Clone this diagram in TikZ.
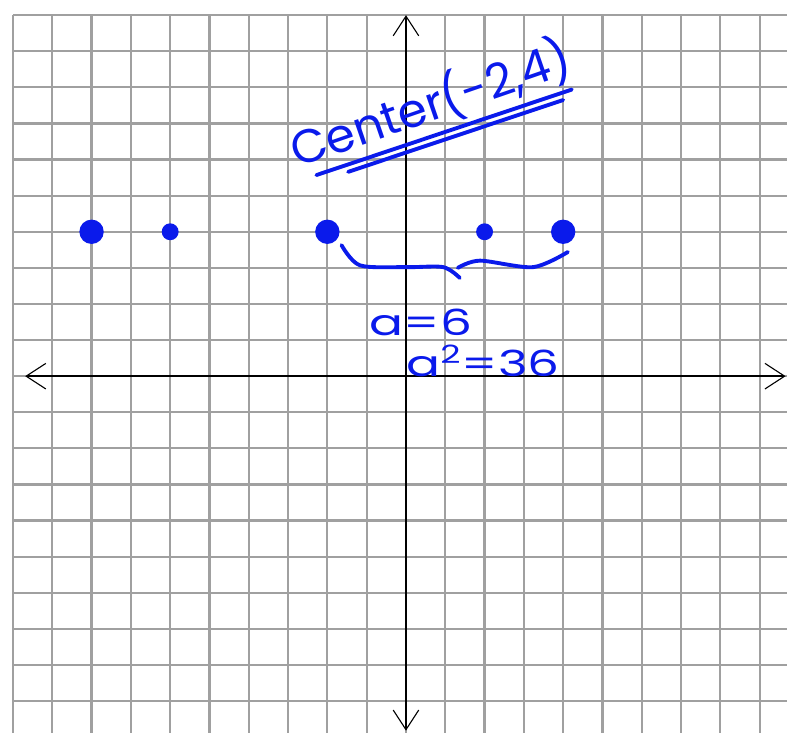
\documentclass[tikz,border=0pt]{standalone}
\usepackage{fontspec}
\newfontfamily\handfont{Poppins}
\usepackage{xcolor}
\definecolor{CInk}{HTML}{0A1AEB}
\definecolor{CGrid}{HTML}{A0A0A0}
\usetikzlibrary{arrows.meta}
\tikzstyle{gridLine}=[draw=CGrid, line width=1.6pt]
\tikzstyle{axisLine}=[draw=black, line width=1pt,
  {Straight Barb[length=5mm, width=6.5mm, line width=0.8pt]}-{Straight Barb[length=5mm, width=6.5mm, line width=0.8pt]}]
\tikzstyle{bigDot}=[circle, fill=CInk, inner sep=0pt, minimum size=6.2mm]
\tikzstyle{smallDot}=[circle, fill=CInk, inner sep=0pt, minimum size=4.3mm]
\tikzstyle{inkLine}=[draw=CInk, line width=2.8pt, line cap=round, line join=round]
\tikzstyle{handText}=[text=CInk, inner sep=0pt, font=\handfont\fontsize{26}{26}\selectfont]

\begin{document}
\begin{tikzpicture}[x=1cm, y=0.9186cm]
\useasboundingbox (-10.33,-9.89) rectangle (9.695,10.42);
% grid paper
\foreach \x in {-10,...,9} \draw[gridLine] (\x,10) -- (\x,-9.89);
\foreach \y in {10,...,-9} \draw[gridLine] (-10,\y) -- (9.695,\y);
% axes
\coordinate (xLeft) at (-9.69,0);
\coordinate (xRight) at (9.66,0);
\coordinate (yTop) at (0,10);
\coordinate (yBottom) at (0,-9.82);
\draw[axisLine] (xLeft) -- (xRight);
\draw[axisLine] (yBottom) -- (yTop);
% vertices, center and foci
\node[bigDot] (vLeft) at (-8,4) {};
\node[smallDot] (fLeft) at (-6,4) {};
\node[bigDot] (cen) at (-2,4) {};
\node[smallDot] (fRight) at (2,4) {};
\node[bigDot] (vRight) at (4,4) {};
% handwriting
\node[handText, rotate=19, font=\handfont\fontsize{34}{34}\selectfont] (cenLabel) at (0.62,7.55) {Center(-2,4)};
\coordinate (ulOneA) at (-2.28,5.57);
\coordinate (ulOneB) at (4.22,7.94);
\coordinate (ulTwoA) at (-1.47,5.66);
\coordinate (ulTwoB) at (4.0,7.65);
\draw[inkLine] (ulOneA) -- (ulOneB);
\draw[inkLine] (ulTwoA) -- (ulTwoB);
\draw[inkLine] plot[smooth, tension=0.5] coordinates {(-1.64,3.63) (-1.17,3.07) (0.02,3.02) (0.95,3.02) (1.37,2.72)};
\draw[inkLine] plot[smooth, tension=0.5] coordinates {(1.32,3.0) (1.88,3.2) (3.23,3.02) (4.12,3.44)};
\node[handText, xscale=1.4] (aVal) at (0.38,1.5) {a=6};
\node[handText, xscale=1.4] (aSq) at (1.96,0.42) {a\textsuperscript{2}=36};
\end{tikzpicture}
\end{document}
